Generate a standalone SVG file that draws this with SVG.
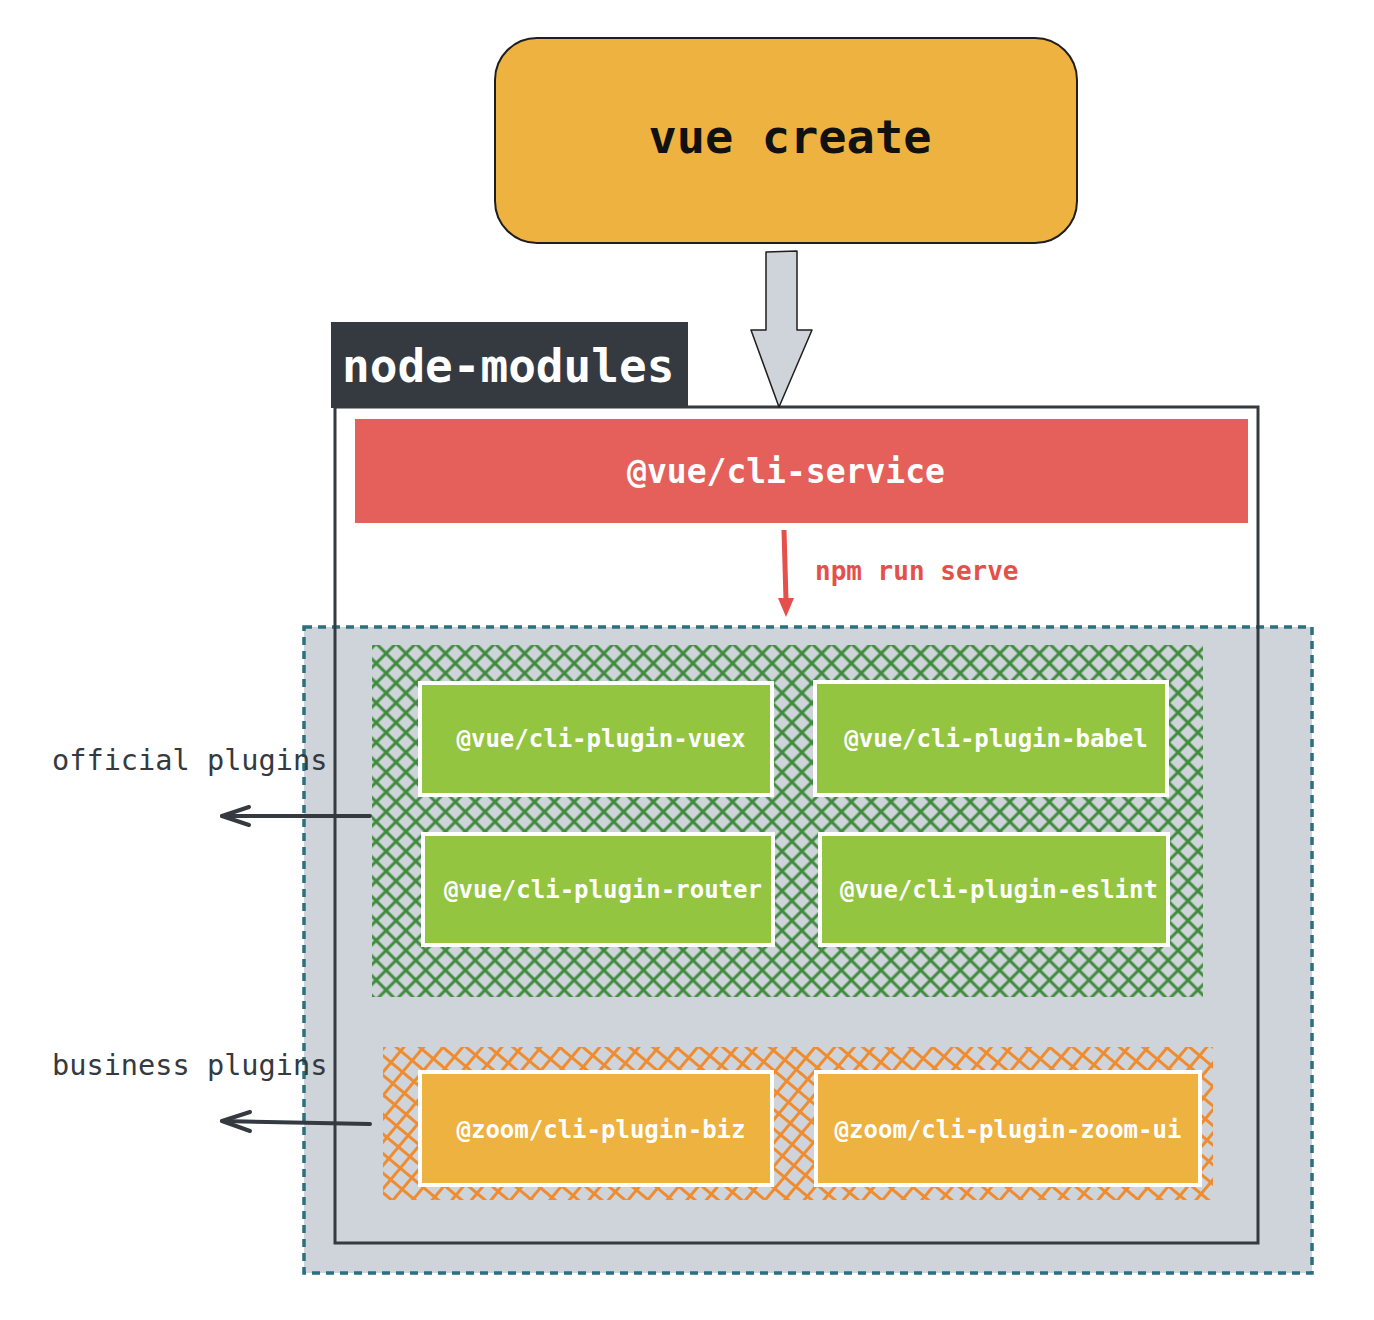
<svg xmlns="http://www.w3.org/2000/svg" width="1374" height="1320" viewBox="0 0 1374 1320">
<style>
.mono{font-family:"DejaVu Sans Mono","Liberation Mono",monospace;font-weight:bold}
.wt{fill:#ffffff;text-anchor:middle}
.gbox{fill:#93c540;stroke:#ffffff;stroke-width:4}
.obox{fill:#edb240;stroke:#ffffff;stroke-width:4}
.lbl{fill:#343a40;font-family:"DejaVu Sans Mono","Liberation Mono",monospace;font-size:28.6px}
</style>
<defs>
<pattern id="hatchG" patternUnits="userSpaceOnUse" width="14" height="14" patternTransform="rotate(45)">
<line x1="7" y1="0" x2="7" y2="14" stroke="#3f8a3d" stroke-width="3"/>
<line x1="0" y1="7" x2="14" y2="7" stroke="#3f8a3d" stroke-width="3"/>
</pattern>
<pattern id="hatchO" patternUnits="userSpaceOnUse" width="15" height="15" patternTransform="rotate(40)">
<line x1="7.5" y1="0" x2="7.5" y2="15" stroke="#f08c30" stroke-width="3"/>
<line x1="0" y1="7.5" x2="15" y2="7.5" stroke="#f08c30" stroke-width="3"/>
</pattern>
</defs>

<g id="vue-create">
<rect x="495" y="38" width="582" height="205" rx="42" ry="42" fill="#edb240" stroke="#1e1e1e" stroke-width="2"/>
<text class="mono" x="790" y="153" font-size="47" text-anchor="middle" fill="#111111">vue create</text>
</g>

<g id="plugins-area">
<rect x="304" y="627" width="1008" height="646" fill="#ced4da" stroke="#2b6f80" stroke-width="3.5" stroke-dasharray="8 6"/>
</g>

<g id="node-modules">
<rect x="335" y="407" width="923" height="836" fill="none" stroke="#343a40" stroke-width="3"/>
<rect x="331" y="322" width="357" height="86" fill="#343a40"/>
<text class="mono" x="342" y="382" font-size="46" fill="#ffffff">node-modules</text>
</g>

<g id="cli-service">
<rect x="355" y="419" width="893" height="104" fill="#e5605a"/>
<text class="mono wt" x="786" y="483" font-size="33">@vue/cli-service</text>
</g>

<g id="official-group">
<rect x="372" y="645" width="831" height="352" fill="url(#hatchG)"/>
</g>
<g id="vuex">
<rect class="gbox" x="420" y="683" width="352" height="112"/>
<text class="mono wt" x="601" y="747" font-size="24">@vue/cli-plugin-vuex</text>
</g>
<g id="babel">
<rect class="gbox" x="815" y="682" width="352" height="113"/>
<text class="mono wt" x="996" y="747" font-size="24">@vue/cli-plugin-babel</text>
</g>
<g id="router">
<rect class="gbox" x="423" y="834" width="350" height="111"/>
<text class="mono wt" x="603" y="898" font-size="24">@vue/cli-plugin-router</text>
</g>
<g id="eslint">
<rect class="gbox" x="820" y="834" width="348" height="111"/>
<text class="mono wt" x="999" y="898" font-size="24">@vue/cli-plugin-eslint</text>
</g>

<g id="business-group">
<rect x="383" y="1047" width="830" height="153" fill="url(#hatchO)"/>
</g>
<g id="biz">
<rect class="obox" x="420" y="1072" width="352" height="113"/>
<text class="mono wt" x="601" y="1138" font-size="24">@zoom/cli-plugin-biz</text>
</g>
<g id="zoom-ui">
<rect class="obox" x="816" y="1072" width="384" height="113"/>
<text class="mono wt" x="1008" y="1138" font-size="24">@zoom/cli-plugin-zoom-ui</text>
</g>

<g id="official-label">
<text class="lbl" x="52" y="770">official plugins</text>
</g>
<g id="business-label">
<text class="lbl" x="52" y="1075">business plugins</text>
</g>

<g id="connectors">
<path d="M766,252 L797,251 L797,330 L812,330 L779,407 L751,330 L766,330 Z" fill="#ced4da" stroke="#1e1e1e" stroke-width="1.5" stroke-linejoin="round"/>
<line x1="784" y1="530" x2="786" y2="600" stroke="#e5504a" stroke-width="5"/>
<path d="M778,598 L794,598 L786,617 Z" fill="#e5504a"/>
<text class="mono" x="815" y="580" font-size="26" fill="#e5504a">npm run serve</text>
<line x1="370" y1="816" x2="222" y2="816" stroke="#343a40" stroke-width="4" stroke-linecap="round"/>
<path d="M249,807 L222,816 L249,825" fill="none" stroke="#343a40" stroke-width="4" stroke-linecap="round" stroke-linejoin="round"/>
<line x1="370" y1="1124" x2="222" y2="1121" stroke="#343a40" stroke-width="4" stroke-linecap="round"/>
<path d="M250,1112 L222,1121 L250,1131" fill="none" stroke="#343a40" stroke-width="4" stroke-linecap="round" stroke-linejoin="round"/>
</g>
</svg>
